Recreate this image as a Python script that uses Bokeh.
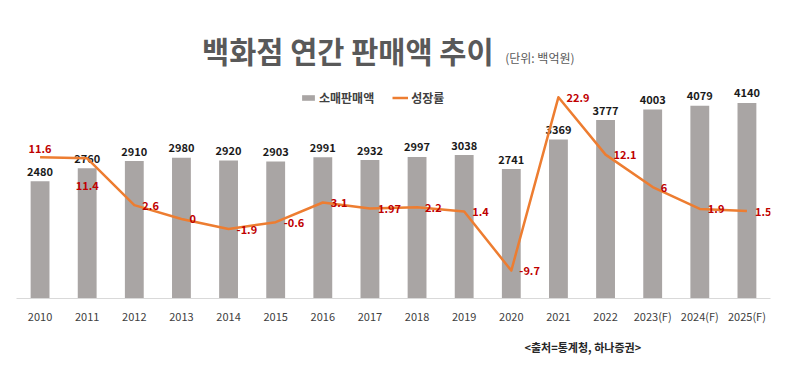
from bokeh.plotting import figure
from bokeh.models import (ColumnDataSource, Range1d, Legend, LegendItem,
                          FactorRange, CDSView, IndexFilter, Title)
from bokeh.embed import file_html
from bokeh.resources import INLINE
from bokeh.core.properties import value

years = ["2010", "2011", "2012", "2013", "2014", "2015", "2016", "2017", "2018",
         "2019", "2020", "2021", "2022", "2023(F)", "2024(F)", "2025(F)"]
sales = [2480, 2760, 2910, 2980, 2920, 2903, 2991, 2932, 2997, 3038, 2741, 3369,
         3777, 4003, 4079, 4140]
growth = [11.6, 11.4, 2.6, 0, -1.9, -0.6, 3.1, 1.97, 2.2, 1.4, -9.7, 22.9, 12.1,
          6, 1.9, 1.5]
growth_text = ["11.6", "11.4", "2.6", "0", "-1.9", "-0.6", "3.1", "1.97", "2.2",
               "1.4", "-9.7", "22.9", "12.1", "6", "1.9", "1.5"]

title_text = "백화점 연간 판매액 추이"
unit_text = "(단위: 백억원)"
source_text = "<출처=통계청, 하나증권>"

FONT = "Noto Sans CJK KR"

src = ColumnDataSource(dict(
    year=years, sales=sales, sales_text=[str(s) for s in sales],
    growth=growth, growth_text=growth_text))

p = figure(x_range=FactorRange(*years), y_range=Range1d(0, 5886),
           width=784, height=365, output_backend="svg", toolbar_location=None,
           min_border_left=16, min_border_right=14, min_border_top=20,
           min_border_bottom=66)
p.extra_y_ranges = {"rate": Range1d(-14.95, 37.32)}
p.outline_line_color = None
p.xgrid.grid_line_color = None
p.ygrid.grid_line_color = None
p.yaxis.visible = False
p.background_fill_color = "white"
p.border_fill_color = "white"

xa = p.xaxis[0]
xa.axis_line_color = "#d9d9d9"
xa.axis_line_width = 1
xa.major_tick_line_color = None
xa.minor_tick_line_color = None
xa.major_label_text_font = FONT
xa.major_label_text_font_size = "11px"
xa.major_label_text_color = "#404040"
xa.major_label_standoff = 3

bars = p.vbar(x="year", top="sales", width=0.40, source=src,
              fill_color="#A9A5A4", line_color=None)

p.text(x="year", y="sales", text="sales_text", source=src,
       text_font=value(FONT), text_font_size="11px", text_font_style="bold",
       text_color="#1a1a1a", text_align="center", text_baseline="middle",
       y_offset=-10)

line = p.line(x="year", y="growth", source=src, y_range_name="rate",
              line_color="#ED7D31", line_width=2.5, line_join="round")

common = dict(source=src, y_range_name="rate", text_font=value(FONT),
              text_font_size="11px", text_font_style="bold",
              text_color="#C00000", text_baseline="middle")
p.text(x="year", y="growth", text="growth_text",
       view=CDSView(filter=IndexFilter(list(range(2, len(years))))),
       text_align="left", x_offset=8, **common)
p.text(x="year", y="growth", text="growth_text",
       view=CDSView(filter=IndexFilter([0])),
       text_align="center", y_offset=-9, **common)
p.text(x="year", y="growth", text="growth_text",
       view=CDSView(filter=IndexFilter([1])),
       text_align="center", y_offset=27, **common)

# headline texts placed in the frame's upper blank area
p.text(x=[7.03], y=[5253], text=[title_text], text_font=value(FONT),
       text_font_size="29.5px", text_font_style="bold", text_color="#595959",
       text_align="center", text_baseline="middle")
p.text(x=[10.37], y=[5105], text=[unit_text], text_font=value(FONT),
       text_font_size="12px", text_color="#595959",
       text_align="left", text_baseline="middle")

legend = Legend(items=[LegendItem(label="소매판매액", renderers=[bars]),
                       LegendItem(label="성장률", renderers=[line])],
                orientation="horizontal", location=(284, 192),
                label_text_font=FONT, label_text_font_size="12px",
                label_text_font_style="bold", label_text_color="#404040",
                glyph_width=16, glyph_height=7, label_standoff=3, spacing=18,
                padding=0, margin=0, border_line_alpha=0,
                background_fill_alpha=0)
p.add_layout(legend, "center")

p.add_layout(Title(text=source_text, align="left", offset=508,
                   text_font=FONT, text_font_size="11px",
                   text_font_style="bold", text_color="#262626",
                   standoff=21), "below")

open("out.html", "w").write(file_html(p, INLINE))
